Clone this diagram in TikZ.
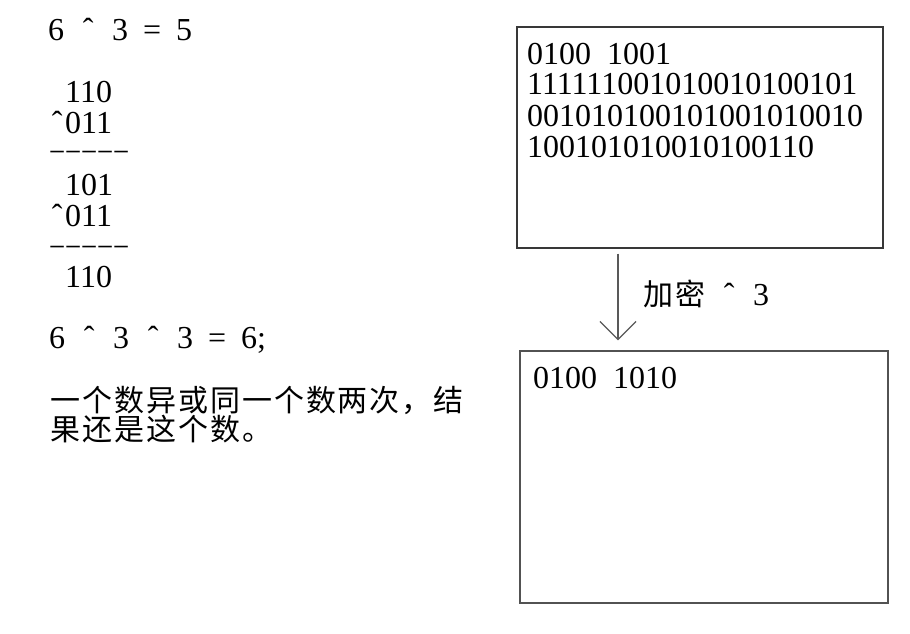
\documentclass[tikz,border=0pt]{standalone}
\usepackage{graphicx}
\usepackage{fontspec}
\setmainfont{Liberation Serif}
\newfontfamily\cjk{Noto Sans CJK SC}
\usetikzlibrary{arrows.meta}
\newcommand\gp{\hspace*{16pt}}
\newcommand\crt{\makebox[16pt]{ˆ}}
\newcommand\eqs{\makebox[16pt]{=}}
\newcommand\dsh{\makebox[16pt]{\scalebox{0.82}[1]{–}}}
\newcommand\cjkt[1]{{\cjk\fontsize{30}{30}\selectfont\addfontfeature{LetterSpace=6.6}#1}}
\begin{document}
\begin{tikzpicture}[x=1pt,y=-1pt,
  txt/.style={anchor=base west, inner sep=0pt, font=\fontsize{32}{32}\selectfont},
  box/.style={draw=black!78, line width=1.3pt, inner sep=0pt, rectangle},
  arr/.style={draw=black!65, line width=1.3pt, -{Straight Barb[length=18pt,width=36pt,line width=1.3pt]}}]
\useasboundingbox[fill=white] (0,0) rectangle (910,634);
% left column
\node[txt] (e1) at (48,41) {6\gp\crt\gp 3\gp\eqs\gp 5};
\node[txt] (b1) at (49,102) {\gp 110};
\node[txt] (b2) at (49,133) {\crt 011};
\node[txt] (b3) at (49,159.5) {\dsh\dsh\dsh\dsh\dsh};
\node[txt] (b4) at (49,195) {\gp 101};
\node[txt] (b5) at (49,226) {\crt 011};
\node[txt] (b6) at (49,254.5) {\dsh\dsh\dsh\dsh\dsh};
\node[txt] (b7) at (49,287) {\gp 110};
\node[txt] (e2) at (49,348) {6\gp\crt\gp 3\gp\crt\gp 3\gp\eqs\gp 6;};
\node[txt] (c1) at (50,411) {\cjkt{一个数异或同一个数两次，结}};
\node[txt] (c2) at (50,440) {\cjkt{果还是这个数。}};
% right boxes
\node[box, minimum width=366pt, minimum height=221pt] (top) at (700,137.5) {};
\node[box, draw=black!68, minimum width=368pt, minimum height=252pt] (bot) at (704,477) {};
\node[txt] (t1) at (527,65) {0100\gp 1001};
\node[txt] (t2) at (527,95) {111111001010010100101};
\node[txt] (t3) at (527,126) {001010100101001010010};
\node[txt] (t4) at (527,157) {100101010010100110};
\node[txt] (u1) at (533,388) {0100\gp 1010};
% arrow
\coordinate (ax) at (618,0);
\draw[arr, shorten <=5pt, shorten >=10pt] (top.south -| ax) -- (bot.north -| ax);
\node[txt] (lab) at (643,305) {\cjkt{加密}\gp\crt\gp 3};
\end{tikzpicture}
\end{document}
